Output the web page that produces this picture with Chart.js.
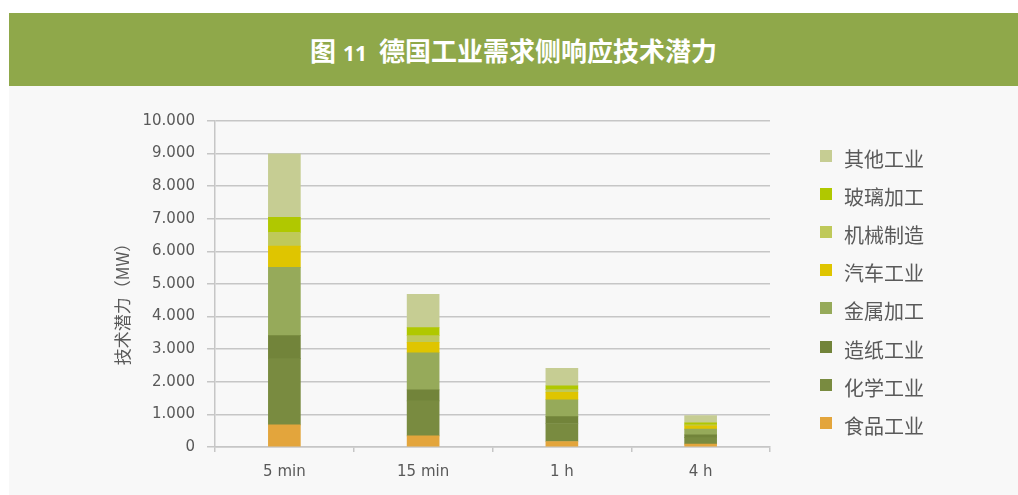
<!DOCTYPE html>
<html>
<head>
<meta charset="utf-8">
<script src="https://cdn.jsdelivr.net/npm/chart.js@4/dist/chart.umd.min.js"></script>
<style>
  html, body { margin: 0; padding: 0; background: #ffffff; }
  #page { position: relative; width: 1018px; height: 495px; overflow: hidden; }
  #panel { position: absolute; left: 9px; top: 86px; width: 1009px; height: 409px; background: #f8f8f8; }
  #header { position: absolute; left: 9px; top: 13px; width: 1009px; height: 73px; background: #8fa84a;
            color: #ffffff; font: bold 26px "Noto Sans CJK SC", sans-serif; text-align: center;
            line-height: 73px; }
  #header .num { font-family: "Open Sans", sans-serif; font-size: 21px; margin: 0 12px 0 7px; }
  #chart { position: absolute; left: 0; top: 0; }
  #legend { position: absolute; left: 820px; top: 0; }
  .item { position: absolute; left: 0; white-space: nowrap; height: 24px; }
  .swatch { position: absolute; left: 0; top: 6px; width: 12px; height: 12px; }
  .label { position: absolute; left: 24px; top: 0; line-height: 24px; font: 20px "Noto Sans CJK SC", sans-serif; color: #5a5a5a; }
</style>
</head>
<body>
<div id="page">
  <div id="panel"></div>
  <div id="header">图<span class="num">11</span>德国工业需求侧响应技术潜力</div>
  <canvas id="chart" width="1018" height="495"></canvas>
  <div id="legend"></div>
</div>
<script>
// Response times (categories)
const categories = ['5 min', '15 min', '1 h', '4 h'];

// Technical potential per sector, MW, stacked bottom to top
const food      = [680, 340, 170, 90];     // 食品工业
const chemical  = [2030, 1075, 550, 200];  // 化学工业
const paper     = [705, 335, 210, 80];     // 造纸工业
const metal     = [2095, 1140, 520, 180];  // 金属加工
const auto      = [650, 320, 230, 100];    // 汽车工业
const machinery = [425, 205, 80, 30];      // 机械制造
const glass     = [460, 245, 120, 60];     // 玻璃加工
const other     = [1950, 1020, 530, 220];  // 其他工业

const seriesNames = ['食品工业', '化学工业', '造纸工业', '金属加工', '汽车工业', '机械制造', '玻璃加工', '其他工业'];
const seriesValues = [food, chemical, paper, metal, auto, machinery, glass, other];
const seriesColors = ['#e3a53c', '#798b40', '#72843a', '#96aa5a', '#dfc500', '#bfc95a', '#b0c800', '#c6cd93'];

// Y axis
const yMax = 10000;
const yStep = 1000;
const yTitle = '技术潜力（MW）';

const fmt = v => String(v).replace(/\B(?=(\d{3})+(?!\d))/g, '.');

const datasets = seriesNames.map((name, i) => ({
  label: name,
  data: seriesValues[i],
  backgroundColor: seriesColors[i],
  borderWidth: 0,
  barThickness: 32
}));

const gridColor = '#c6c6c6';

// Rotated axis title drawn beside the value axis
const yTitlePlugin = {
  id: 'yTitle',
  afterDraw(chart) {
    const ctx = chart.ctx;
    ctx.save();
    ctx.translate(123, 300);
    ctx.rotate(-Math.PI / 2);
    ctx.fillStyle = '#595959';
    ctx.font = '17px "Noto Sans CJK SC", sans-serif';
    ctx.textAlign = 'center';
    ctx.textBaseline = 'middle';
    ctx.fillText(yTitle, 0, 0);
    ctx.restore();
  }
};

const chart = new Chart(document.getElementById('chart'), {
  type: 'bar',
  data: { labels: categories, datasets },
  options: {
    responsive: false,
    animation: false,
    layout: { padding: { left: 0, right: 248, top: 121, bottom: 0 } },
    plugins: {
      legend: { display: false },
      tooltip: { enabled: false }
    },
    scales: {
      x: {
        stacked: true,
        grid: { display: true, drawOnChartArea: false, drawTicks: true, tickLength: 5, color: gridColor, lineWidth: 1.5, offset: true },
        border: { display: true, color: gridColor, width: 1.5 },
        ticks: { color: '#595959', font: { family: '"DejaVu Sans", sans-serif', size: 15 }, padding: 11 },
        afterFit(scale) { scale.height = 48; }
      },
      y: {
        stacked: true,
        min: 0,
        max: yMax,
        ticks: { stepSize: yStep, color: '#595959', font: { family: '"DejaVu Sans", sans-serif', size: 15 }, padding: 12,
                 callback: v => fmt(v) },
        grid: { color: gridColor, lineWidth: 1.5, tickLength: 8, drawTicks: true },
        border: { display: true, color: gridColor, width: 1.5 },
        afterFit(scale) { scale.width = 215; }
      }
    }
  },
  plugins: [yTitlePlugin]
});

// Legend, listed top to bottom in reverse stacking order
const legend = document.getElementById('legend');
chart.data.datasets.slice().reverse().forEach((ds, i) => {
  const item = document.createElement('div');
  item.className = 'item';
  item.style.top = (156 - 12 + i * 38.1) + 'px';
  const sw = document.createElement('div');
  sw.className = 'swatch';
  sw.style.background = ds.backgroundColor;
  const lb = document.createElement('div');
  lb.className = 'label';
  lb.textContent = ds.label;
  item.appendChild(sw);
  item.appendChild(lb);
  legend.appendChild(item);
});
</script>
</body>
</html>
